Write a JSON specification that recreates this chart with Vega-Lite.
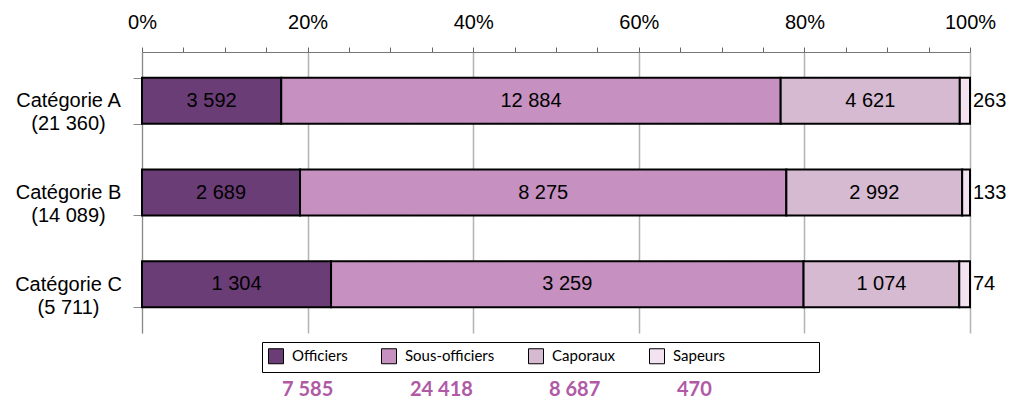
{
  "$schema": "https://vega.github.io/schema/vega-lite/v6.json",
  "width": 828,
  "height": 281,
  "autosize": {"type": "none"},
  "padding": {"left": 142, "top": 52, "right": 42, "bottom": 76},
  "background": "white",
  "config": {"view": {"stroke": null}},
  "data": {
    "values": [
      {"cat": "Catégorie A", "rank": "Officiers", "order": 1, "n": 3592},
      {"cat": "Catégorie A", "rank": "Sous-officiers", "order": 2, "n": 12884},
      {"cat": "Catégorie A", "rank": "Caporaux", "order": 3, "n": 4621},
      {"cat": "Catégorie A", "rank": "Sapeurs", "order": 4, "n": 263},
      {"cat": "Catégorie B", "rank": "Officiers", "order": 1, "n": 2689},
      {"cat": "Catégorie B", "rank": "Sous-officiers", "order": 2, "n": 8275},
      {"cat": "Catégorie B", "rank": "Caporaux", "order": 3, "n": 2992},
      {"cat": "Catégorie B", "rank": "Sapeurs", "order": 4, "n": 133},
      {"cat": "Catégorie C", "rank": "Officiers", "order": 1, "n": 1304},
      {"cat": "Catégorie C", "rank": "Sous-officiers", "order": 2, "n": 3259},
      {"cat": "Catégorie C", "rank": "Caporaux", "order": 3, "n": 1074},
      {"cat": "Catégorie C", "rank": "Sapeurs", "order": 4, "n": 74}
    ]
  },
  "transform": [
    {"joinaggregate": [{"op": "sum", "field": "n", "as": "catTot"}], "groupby": ["cat"]},
    {"joinaggregate": [{"op": "sum", "field": "n", "as": "rankTot"}], "groupby": ["rank"]},
    {"calculate": "datum.cat + '|(' + replace(format(datum.catTot, ','), ',', ' ') + ')'", "as": "ylab"},
    {"calculate": "replace(format(datum.rankTot, ','), ',', ' ')", "as": "totLab"},
    {"calculate": "replace(format(datum.n, ','), ',', ' ')", "as": "lab"},
    {"stack": "n", "groupby": ["ylab"], "sort": [{"field": "order"}], "offset": "normalize", "as": ["x0", "x1"]},
    {"calculate": "(datum.x0 + datum.x1) / 2", "as": "mid"}
  ],
  "encoding": {
    "y": {
      "field": "ylab",
      "type": "nominal",
      "scale": {"paddingInner": 0.5, "paddingOuter": 0.28},
      "axis": {
        "title": null,
        "tickBand": "extent",
        "tickSize": 9,
        "tickColor": "#888",
        "domainColor": "#888",
        "labelPadding": 65,
        "labelAlign": "center",
        "labelBaseline": "middle",
        "labelFont": "Liberation Sans",
        "labelFontSize": 20,
        "labelColor": "black",
        "labelLineHeight": 23,
        "labelExpr": "[slice(datum.label, 0, indexof(datum.label, '|')), slice(datum.label, indexof(datum.label, '|') + 1)]",
        "grid": false
      }
    }
  },
  "layer": [
    {
      "mark": {"type": "bar", "stroke": "black", "strokeWidth": 2},
      "encoding": {
        "x": {
          "field": "x0",
          "type": "quantitative",
          "scale": {"domain": [0, 1], "nice": false},
          "axis": {
            "orient": "top",
            "title": null,
            "format": ".0%",
            "values": [0, 0.05, 0.1, 0.15, 0.2, 0.25, 0.3, 0.35, 0.4, 0.45, 0.5, 0.55, 0.6, 0.65, 0.7, 0.75, 0.8, 0.85, 0.9, 0.95, 1],
            "labelExpr": "round(datum.value * 100) % 20 == 0 ? datum.label : ''",
            "labelFont": "Liberation Sans",
            "labelFontSize": 20,
            "labelColor": "black",
            "labelPadding": 15,
            "labelFlush": false,
            "labelOverlap": false,
            "tickSize": 5,
            "tickColor": "#666",
            "domainColor": "#777",
            "grid": true,
            "gridColor": {"condition": {"test": "round(datum.value * 100) % 20 == 0", "value": "#b3b3b3"}, "value": "transparent"},
            "gridWidth": 1.5
          }
        },
        "x2": {"field": "x1"},
        "color": {
          "field": "rank",
          "type": "nominal",
          "scale": {
            "domain": ["Officiers", "Sous-officiers", "Caporaux", "Sapeurs"],
            "range": ["#6B3D77", "#C691C0", "#D5BAD2", "#F3E3F0"]
          },
          "legend": {
            "orient": "none",
            "legendX": 120,
            "legendY": 290,
            "direction": "horizontal",
            "title": "MMMMMMM",
            "titleOrient": "right",
            "titleOpacity": 0,
            "titleFontSize": 15,
            "titlePadding": 0,
            "symbolType": "square",
            "symbolSize": 225,
            "symbolStrokeColor": "black",
            "symbolStrokeWidth": 1,
            "symbolOpacity": 1,
            "labelFont": "Lato",
            "labelFontSize": 15,
            "labelColor": "black",
            "labelOffset": 8,
            "columnPadding": 31,
            "strokeColor": "black",
            "fillColor": "white",
            "padding": 6
          }
        },
        "strokeDash": {
          "field": "totLab",
          "type": "nominal",
          "scale": {
            "domain": ["7 585", "24 418", "8 687", "470"],
            "range": [[1, 0], [1, 0], [1, 0], [1, 0]]
          },
          "legend": {
            "orient": "none",
            "legendX": 120,
            "legendY": 328,
            "direction": "horizontal",
            "title": null,
            "symbolOpacity": 0,
            "symbolSize": 1,
            "symbolStrokeWidth": 0,
            "labelOffset": 0,
            "labelFont": "Lato",
            "labelFontWeight": "bold",
            "labelFontSize": 20,
            "labelColor": "#B05AA6",
            "columnPadding": 56,
            "padding": 0
          }
        }
      }
    },
    {
      "transform": [{"filter": "datum.rank != 'Sapeurs'"}],
      "mark": {"type": "text", "font": "Liberation Sans", "fontSize": 20, "color": "black", "align": "center", "baseline": "middle"},
      "encoding": {
        "x": {"field": "mid", "type": "quantitative"},
        "text": {"field": "lab"}
      }
    },
    {
      "transform": [{"filter": "datum.rank == 'Sapeurs'"}],
      "mark": {"type": "text", "font": "Liberation Sans", "fontSize": 20, "color": "black", "align": "left", "baseline": "middle", "dx": 3},
      "encoding": {
        "x": {"field": "x1", "type": "quantitative"},
        "text": {"field": "lab"}
      }
    }
  ]
}
